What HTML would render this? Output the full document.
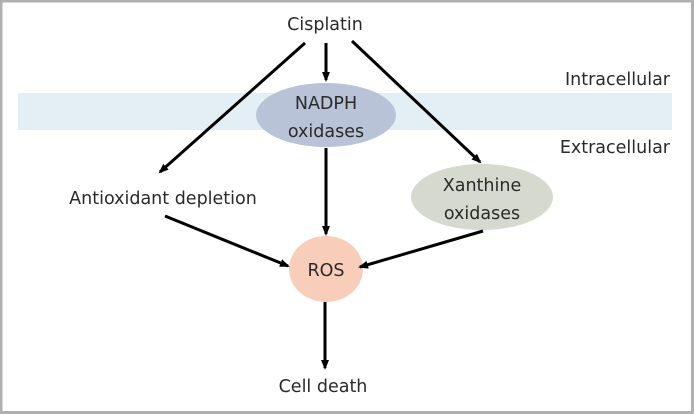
<!DOCTYPE html>
<html><head><meta charset="utf-8"><style>
html,body{margin:0;padding:0;background:#fff;}
svg{display:block;}
text{font-family:"DejaVu Sans","Liberation Sans",sans-serif;font-size:17.5px;fill:#2a2a2a;}
</style></head><body>
<svg width="694" height="414" viewBox="0 0 694 414" xmlns="http://www.w3.org/2000/svg">
<defs><marker id="a" markerWidth="10" markerHeight="10" refX="8" refY="5" orient="auto" markerUnits="userSpaceOnUse"><path d="M0,1 L10,5 L0,9 z" fill="#000"/></marker></defs>
<rect x="1" y="1" width="691.5" height="411.5" fill="#fff" stroke="#b0b0b0" stroke-width="3"/>
<rect x="18" y="93" width="654" height="37" fill="#e3eef5"/>
<ellipse cx="326" cy="115" rx="70" ry="32" fill="#b8c3d8"/>
<ellipse cx="482" cy="197" rx="71" ry="33" fill="#d6d9cd"/>
<ellipse cx="326" cy="269" rx="37" ry="33" fill="#f8cdb9"/>
<g stroke="#000" stroke-width="3" marker-end="url(#a)">
<line x1="305" y1="43" x2="160" y2="172"/>
<line x1="326" y1="43" x2="326" y2="80"/>
<line x1="352" y1="41" x2="480" y2="162"/>
<line x1="326" y1="148" x2="326" y2="234"/>
<line x1="165" y1="216" x2="288" y2="266"/>
<line x1="483" y1="231" x2="360" y2="267"/>
<line x1="325" y1="302" x2="325" y2="368"/>
</g>
<text x="325" y="30" text-anchor="middle">Cisplatin</text>
<text x="326" y="109" text-anchor="middle">NADPH</text>
<text x="326" y="137" text-anchor="middle">oxidases</text>
<text x="482" y="191" text-anchor="middle">Xanthine</text>
<text x="482" y="219" text-anchor="middle">oxidases</text>
<text x="326" y="276" text-anchor="middle">ROS</text>
<text x="163" y="204" text-anchor="middle">Antioxidant depletion</text>
<text x="323" y="392" text-anchor="middle">Cell death</text>
<text x="670" y="85" text-anchor="end">Intracellular</text>
<text x="670" y="153" text-anchor="end">Extracellular</text>
</svg>
</body></html>
